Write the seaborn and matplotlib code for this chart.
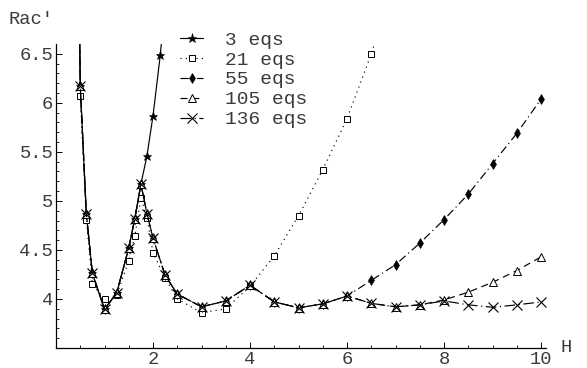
import numpy as np
import pandas as pd
import matplotlib
matplotlib.use("Agg")
import matplotlib.pyplot as plt
import seaborn as sns

# ---- data ----
x_all = [0.375, 0.5, 0.625, 0.75, 1.0, 1.25, 1.5, 1.625, 1.75, 1.875, 2.0, 2.25, 2.5,
         3.0, 3.5, 4.0, 4.5, 5.0, 5.5, 6.0, 6.5, 7.0, 7.5, 8.0, 8.5, 9.0, 9.5, 10.0]

x_3 = [0.375, 0.5, 0.625, 0.75, 1.0, 1.25, 1.5, 1.625, 1.75, 1.875, 2.0, 2.15, 2.3]
y_3 = [11.5, 6.17, 4.87, 4.26, 3.895, 4.06, 4.52, 4.82, 5.17, 5.46, 5.87, 6.49, 7.3]

x_21 = [0.375, 0.5, 0.625, 0.75, 1.0, 1.25, 1.5, 1.625, 1.75, 1.875, 2.0, 2.25, 2.5,
        3.0, 3.5, 4.0, 4.5, 5.0, 5.5, 6.0, 6.5, 7.0]
y_21 = [11.0, 6.07, 4.81, 4.15, 4.00, 4.04, 4.39, 4.64, 5.03, 4.83, 4.47, 4.21, 4.00,
        3.86, 3.90, 4.13, 4.44, 4.85, 5.32, 5.84, 6.50, 7.30]

y_55 = [11.5, 6.17, 4.87, 4.26, 3.895, 4.06, 4.52, 4.82, 5.17, 4.87, 4.62, 4.24, 4.05,
        3.92, 3.98, 4.14, 3.97, 3.91, 3.95, 4.03, 4.19, 4.35, 4.57, 4.81, 5.07, 5.38, 5.69, 6.04]

y_105 = [11.5, 6.17, 4.87, 4.26, 3.895, 4.06, 4.52, 4.82, 5.17, 4.87, 4.62, 4.24, 4.05,
         3.92, 3.98, 4.14, 3.97, 3.91, 3.95, 4.03, 3.955, 3.92, 3.94, 3.99, 4.07, 4.17, 4.29, 4.43]

y_136 = [11.5, 6.17, 4.87, 4.26, 3.895, 4.06, 4.52, 4.82, 5.17, 4.87, 4.62, 4.24, 4.05,
         3.92, 3.98, 4.14, 3.97, 3.91, 3.95, 4.03, 3.955, 3.92, 3.94, 3.98, 3.94, 3.915, 3.94, 3.97]

labels = ["3 eqs", "21 eqs", "55 eqs", "105 eqs", "136 eqs"]

xtick_vals = [2, 4, 6, 8, 10]
xtick_labels = ["2", "4", "6", "8", "10"]
ytick_vals = [4, 4.5, 5, 5.5, 6, 6.5]
ytick_labels = ["4", "4.5", "5", "5.5", "6", "6.5"]

# ---- styling ----
sns.set_style("white")
plt.rcParams["font.family"] = ["Liberation Mono", "DejaVu Sans Mono"]
plt.rcParams["axes.unicode_minus"] = False

FS = 13.5
TXT = "#3a3a3a"

fig = plt.figure(figsize=(5.87, 3.68), dpi=100)
ax = fig.add_axes([56 / 587, 20 / 368, 490 / 587, (348 - 44) / 368])

series = [
    (x_3, y_3, labels[0], dict(marker="*", ms=6.5, mfc="black", mec="black", mew=0.4, linestyle="-")),
    (x_21, y_21, labels[1], dict(marker="s", ms=4.5, mfc="white", mec="black", mew=0.7, linestyle=(0, (1, 3.5)))),
    (x_all, y_55, labels[2], dict(marker="d", ms=5, mfc="black", mec="black", mew=0.4, linestyle=(0, (7, 3, 1, 3)))),
    (x_all, y_105, labels[3], dict(marker="^", ms=5.5, mfc="white", mec="black", mew=0.7, linestyle=(0, (6, 4)))),
    (x_all, y_136, labels[4], dict(marker="x", ms=6.5, mec="black", mew=0.8, linestyle=(0, (9, 3, 1, 3)))),
]

for xs, ys, lab, kw in series:
    df = pd.DataFrame({"H": xs, "Rac": ys})
    sns.lineplot(data=df, x="H", y="Rac", ax=ax, color="black", lw=0.85,
                 label=lab, estimator=None, sort=False, **kw)

ax.set_xlim(0, 10.1)
ax.set_ylim(3.5, 6.6)
ax.set_xlabel("")
ax.set_ylabel("")

for s in ["top", "right"]:
    ax.spines[s].set_visible(False)
for s in ["left", "bottom"]:
    ax.spines[s].set_linewidth(0.9)
    ax.spines[s].set_color("black")

ax.set_xticks(xtick_vals)
ax.set_xticklabels(xtick_labels)
ax.set_xticks(np.arange(0.5, 10.01, 0.5), minor=True)
ax.set_yticks(ytick_vals)
ax.set_yticklabels(ytick_labels)
ax.set_yticks(np.arange(3.6, 6.55, 0.1), minor=True)

ax.tick_params(which="major", direction="in", length=4.5, width=0.7, color="black",
               labelsize=FS, labelcolor=TXT, pad=2, left=True, bottom=True)
ax.tick_params(which="minor", direction="in", length=2.5, width=0.6, color="black",
               left=True, bottom=True)

leg = ax.legend(loc="upper left", bbox_to_anchor=(180 / 587, 1 - 31 / 368),
                bbox_transform=fig.transFigure, frameon=False, fontsize=FS + 0.5,
                handlelength=1.2, handletextpad=1.1, labelspacing=0.12,
                borderpad=0, borderaxespad=0)
for t in leg.get_texts():
    t.set_color(TXT)

fig.text(8 / 587, 1 - 20 / 368, "Rac'", fontsize=FS, color=TXT, va="center", ha="left")
fig.text(566 / 587, 1 - 347 / 368, "H", fontsize=FS, color=TXT, va="center", ha="center")

fig.savefig("out.png", dpi=100)
